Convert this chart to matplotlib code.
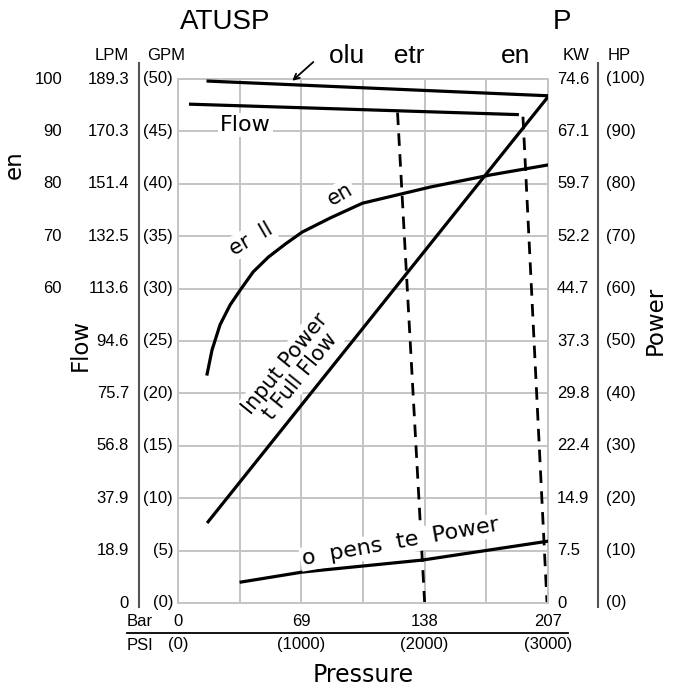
import matplotlib
matplotlib.use("Agg")
import matplotlib.pyplot as plt
import matplotlib.transforms as mtransforms
import numpy as np

# ejes: presion en PSI, caudal en GPM, potencia / porcentaje en escala 0-100
gpm_ticks = [0, 5, 10, 15, 20, 25, 30, 35, 40, 45, 50]
lpm_labels = ['0', '18.9', '37.9', '56.8', '75.7', '94.6', '113.6', '132.5', '151.4', '170.3', '189.3']
gpm_labels = ['(0)', '(5)', '(10)', '(15)', '(20)', '(25)', '(30)', '(35)', '(40)', '(45)', '(50)']
pct_ticks = [30, 35, 40, 45, 50]
pct_labels = ['60', '70', '80', '90', '100']
kw_labels = ['0', '7.5', '14.9', '22.4', '29.8', '37.3', '44.7', '52.2', '59.7', '67.1', '74.6']
hp_labels = ['(0)', '(10)', '(20)', '(30)', '(40)', '(50)', '(60)', '(70)', '(80)', '(90)', '(100)']
psi_ticks = [0, 1000, 2000, 3000]
bar_labels = ['0', '69', '138', '207']
psi_labels = ['(0)', '(1000)', '(2000)', '(3000)']

# curvas
vol_psi = [244, 3000]
vol_pct = [99.6, 96.8]
flow_psi = [89, 2764]
flow_gpm = [47.6, 46.6]
cut1_psi = [1780, 2000]
cut1_gpm = [46.8, 0]
cut2_psi = [2797, 2992]
cut2_gpm = [46.4, 0]
inp_psi = [244, 3000]
inp_hp = [15.5, 96.6]
eff_psi = [236, 276, 341, 423, 504, 610, 732, 870, 1008, 1236, 1496, 2049, 2536, 3000]
eff_pct = [43.7, 48.3, 53.1, 56.9, 59.7, 63.2, 66.0, 68.5, 70.8, 73.5, 76.3, 79.4, 81.7, 83.6]
comp_psi = [512, 1008, 1984, 3000]
comp_hp = [4.0, 5.9, 8.2, 11.8]

W, H = 678, 688
fig = plt.figure(figsize=(W / 100, H / 100), dpi=100)
sans = 'Liberation Sans'
dv = 'DejaVu Sans'

def fx(px):
    return px / W

def fy(py):
    return 1 - py / H

ax = fig.add_axes([fx(178), fy(603), (548 - 178) / W, (603 - 79) / H])
ax.set_xlim(0, 3000)
ax.set_ylim(0, 50)
ax.set_xticks(np.arange(0, 3001, 500))
ax.set_yticks(gpm_ticks)
ax.grid(color='#c4c4c4', lw=1.4)
ax.tick_params(length=0, labelleft=False, labelbottom=False)
for s in ax.spines.values():
    s.set_color('#c4c4c4')
    s.set_linewidth(1.4)

ax2 = ax.twinx()
ax2.set_ylim(0, 100)
ax2.axis('off')

lw = 2.3
ax.plot(flow_psi, flow_gpm, color='black', lw=lw, solid_capstyle='butt')
ax.plot(cut1_psi, cut1_gpm, color='black', lw=2, ls=(0, (4.5, 3)))
ax.plot(cut2_psi, cut2_gpm, color='black', lw=2, ls=(0, (4.5, 3)))
ax2.plot(vol_psi, vol_pct, color='black', lw=lw)
ax2.plot(inp_psi, inp_hp, color='black', lw=lw)
ax2.plot(eff_psi, eff_pct, color='black', lw=lw)
ax2.plot(comp_psi, comp_hp, color='black', lw=lw)

wbox = dict(facecolor='white', edgecolor='none', pad=1.5)
ax.text(545, 45.6, 'Flow', fontsize=16, family=dv, ha='center', va='center', bbox=wbox)
ax2.text(590, 69.5, 'er  ll', fontsize=15, family=dv, ha='center', va='center', rotation=30, bbox=wbox)
ax2.text(1317, 78.0, 'en', fontsize=15, family=dv, ha='center', va='center', rotation=30, bbox=wbox)
ax2.text(930, 44.5, 'Input Power\nt Full Flow', fontsize=15, family=dv, ha='center', va='center',
         rotation=51, linespacing=1.0, bbox=wbox)
ax2.text(1805, 11.6, 'o  pens  te  Power', fontsize=16, family=dv, ha='center', va='center',
         rotation=10, bbox=wbox)
ax2.annotate('', xy=(910, 99.3), xytext=(1114, 103.6), annotation_clip=False,
             arrowprops=dict(arrowstyle='->', color='black', lw=1.3))

# etiquetas de los ejes
tr = mtransforms.blended_transform_factory(fig.transFigure, ax.transData)
for v, a, b, k, h in zip(gpm_ticks, lpm_labels, gpm_labels, kw_labels, hp_labels):
    ax.text(fx(129), v, a, transform=tr, fontsize=12, family=sans, ha='right', va='center')
    ax.text(fx(173), v, b, transform=tr, fontsize=12, family=sans, ha='right', va='center')
    ax.text(fx(557), v, k, transform=tr, fontsize=12, family=sans, ha='left', va='center')
    ax.text(fx(606), v, h, transform=tr, fontsize=12, family=sans, ha='left', va='center')
for v, p in zip(pct_ticks, pct_labels):
    ax.text(fx(62), v, p, transform=tr, fontsize=12, family=sans, ha='right', va='center')

trx = mtransforms.blended_transform_factory(ax.transData, fig.transFigure)
for v, b, p in zip(psi_ticks, bar_labels, psi_labels):
    ax.text(v, fy(622), b, transform=trx, fontsize=12, family=sans, ha='center', va='center')
    ax.text(v, fy(645), p, transform=trx, fontsize=12, family=sans, ha='center', va='center')

fig.text(fx(127), fy(622), 'Bar', fontsize=12, family=sans, ha='left', va='center')
fig.text(fx(127), fy(645), 'PSI', fontsize=12, family=sans, ha='left', va='center')
fig.add_artist(plt.Line2D([fx(127), fx(568)], [fy(633), fy(633)], color='black', lw=1.3))
fig.add_artist(plt.Line2D([fx(139), fx(139)], [fy(63), fy(607)], color='#555555', lw=1.5))
fig.add_artist(plt.Line2D([fx(598), fx(598)], [fy(63), fy(607)], color='#555555', lw=1.5))

fig.text(fx(129), fy(55), 'LPM', fontsize=12, family=sans, ha='right', va='center')
fig.text(fx(147), fy(55), 'GPM', fontsize=12, family=sans, ha='left', va='center')
fig.text(fx(589), fy(55), 'KW', fontsize=12, family=sans, ha='right', va='center')
fig.text(fx(608), fy(55), 'HP', fontsize=12, family=sans, ha='left', va='center')

fig.text(fx(363), fy(675), 'Pressure', fontsize=17, family=dv, ha='center', va='center')
fig.text(fx(80), fy(345), 'Flow', fontsize=16.5, family=dv, ha='center', va='center', rotation=90)
fig.text(fx(655), fy(320), 'Power', fontsize=16.5, family=dv, ha='center', va='center', rotation=90)
fig.text(fx(14), fy(165), 'en', fontsize=16.5, family=dv, ha='center', va='center', rotation=90)

fig.text(fx(225), fy(22), 'ATUSP', fontsize=20, family=sans, ha='center', va='center')
fig.text(fx(562), fy(22), 'P', fontsize=20, family=sans, ha='center', va='center')
fig.text(fx(377), fy(56), 'olu    etr', fontsize=19, family=sans, ha='center', va='center')
fig.text(fx(516), fy(56), 'en', fontsize=19, family=sans, ha='center', va='center')

fig.savefig('out.png', dpi=100)
